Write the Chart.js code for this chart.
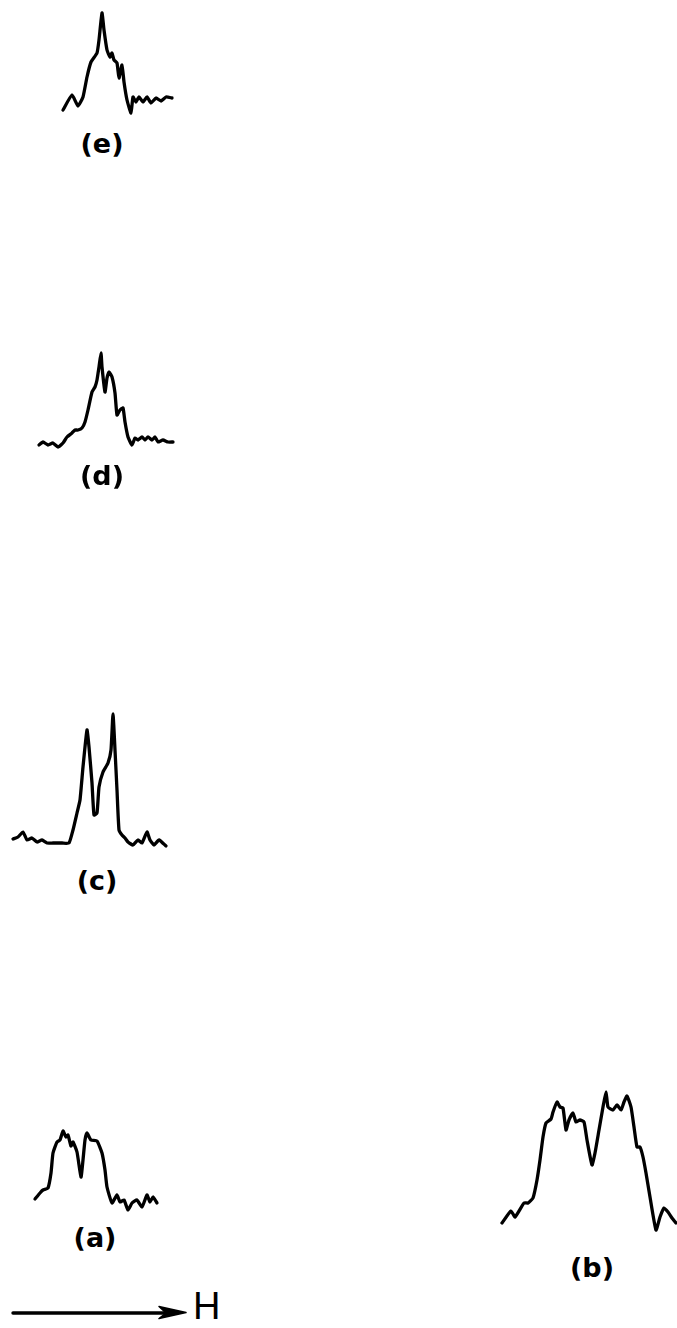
<!DOCTYPE html>
<html>
<head>
<meta charset="utf-8">
<title>Resonance spectra (a)–(e)</title>
<script src="https://cdn.jsdelivr.net/npm/chart.js@4.4.1/dist/chart.umd.min.js"></script>
<style>
  html, body { margin: 0; padding: 0; background: #fff; }
  #page { position: relative; width: 677px; height: 1328px; overflow: hidden; background: #fff; }
  .panel { position: absolute; }
  .label {
    position: absolute;
    font-family: "DejaVu Sans", sans-serif;
    font-weight: bold;
    font-size: 27px;
    line-height: 1;
    color: #000;
    transform: translate(-50%, -50%);
    white-space: nowrap;
  }
  #field-arrow { position: absolute; left: 0; top: 1296px; }
  #field-label {
    position: absolute;
    left: 193px; top: 1285px;
    font-family: "Liberation Sans", "DejaVu Sans", sans-serif;
    font-size: 38px;
    line-height: 42px;
    height: 42px;
    color: #000;
  }
</style>
</head>
<body>
<div id="page">
  <canvas id="spec-e" class="panel"></canvas>
  <canvas id="spec-d" class="panel"></canvas>
  <canvas id="spec-c" class="panel"></canvas>
  <canvas id="spec-a" class="panel"></canvas>
  <canvas id="spec-b" class="panel"></canvas>

  <div class="label" id="lab-e">(e)</div>
  <div class="label" id="lab-d">(d)</div>
  <div class="label" id="lab-c">(c)</div>
  <div class="label" id="lab-a">(a)</div>
  <div class="label" id="lab-b">(b)</div>

  <svg id="field-arrow" width="190" height="32" viewBox="0 0 190 32">
    <line x1="13" y1="17" x2="172" y2="17" stroke="#000" stroke-width="3.4" stroke-linecap="round"/>
    <path d="M159 10.5 L186 16.5 L159 22.5 L166 17 Z" fill="#000" stroke="#000" stroke-width="1.5" stroke-linejoin="round"/>
  </svg>
  <div id="field-label">H</div>
</div>

<script>
// Spectrum (e): field position vs. absorption signal (arbitrary units)
const eField  = [13,22,28,33,37,41,47,49,52,54,57,60,62,64,67,69,72,74,77,81,83,86,89,93,97,101,106,111,116,122];
const eSignal = [15,30,19,28,48,63,72,85,112,95,75,68,72,65,62,47,60,43,25,12,28,23,28,23,28,22,27,24,28,27];

// Spectrum (d)
const dField  = [19,23,28,33,38,43,47,52,55,58,62,65,68,72,75,77,79,81,82,85,87,89,92,95,97,100,103,105,108,112,115,118,122,125,128,132,135,138,143,148,153];
const dSignal = [15,18,15,17,13,17,23,27,30,30,32,38,50,68,73,80,93,107,93,68,82,88,83,67,45,50,52,38,23,15,22,20,23,20,23,20,23,18,20,18,18];

// Spectrum (c)
const cField  = [13,18,23,27,32,37,42,47,53,62,69,73,77,80,83,87,89,92,94,97,99,103,108,111,113,115,117,119,122,125,128,133,138,142,147,150,154,159,166];
const cSignal = [21,23,28,20,22,18,20,17,17,17,17,30,47,60,93,130,113,77,45,47,73,88,97,110,146,110,70,30,25,22,18,15,20,17,28,20,15,20,14];

// Spectrum (a)
const aField  = [15,20,23,28,31,33,37,40,43,46,48,51,53,57,61,63,65,67,71,77,82,85,87,92,97,100,104,108,112,117,122,127,130,133,137];
const aSignal = [21,27,30,32,47,67,78,80,89,83,85,74,78,68,43,60,80,87,80,79,67,50,33,17,25,18,20,10,17,20,13,25,18,23,17];

// Spectrum (b)
const bField  = [12,21,25,34,38,43,47,50,53,56,61,63,67,70,73,76,79,83,86,90,94,97,102,105,109,113,116,118,123,127,131,134,137,141,144,147,150,153,156,160,166,170,174,178,182,186];
const bSignal = [17,29,23,37,37,42,60,80,103,117,121,128,138,133,132,110,120,127,118,120,118,100,75,87,110,133,148,133,130,135,130,138,144,133,113,93,93,83,67,43,10,23,32,28,22,17];

// Spectrum labels
const labels = ['(e)', '(d)', '(c)', '(a)', '(b)'];

// Where each trace sits on the sheet (left, top, width, height) and where its caption goes
const layout = {
  e: { box: [50, 0, 140, 125],    cap: [102, 143] },
  d: { box: [20, 340, 170, 120],  cap: [102, 475] },
  c: { box: [0, 700, 180, 160],   cap: [97, 880] },
  a: { box: [20, 1110, 150, 110], cap: [95, 1237] },
  b: { box: [490, 1080, 187, 160], cap: [592, 1267] }
};

const series = {
  e: [eField, eSignal],
  d: [dField, dSignal],
  c: [cField, cSignal],
  a: [aField, aSignal],
  b: [bField, bSignal]
};

function drawSpectrum(key, idx) {
  const [left, top, w, h] = layout[key].box;
  const cv = document.getElementById('spec-' + key);
  cv.width = w; cv.height = h;
  cv.style.left = left + 'px';
  cv.style.top = top + 'px';
  cv.style.width = w + 'px';
  cv.style.height = h + 'px';

  const [fx, sy] = series[key];
  const pts = fx.map((x, i) => ({ x: x, y: sy[i] }));

  new Chart(cv, {
    type: 'line',
    data: {
      datasets: [{
        label: labels[idx],
        data: pts,
        borderColor: '#000',
        borderWidth: 3.3,
        pointRadius: 0,
        tension: 0.15,
        borderJoinStyle: 'round',
        borderCapStyle: 'round',
        fill: false,
        clip: false
      }]
    },
    options: {
      responsive: false,
      animation: false,
      devicePixelRatio: 1,
      layout: { padding: 0 },
      plugins: { legend: { display: false }, tooltip: { enabled: false }, title: { display: false } },
      scales: {
        x: { type: 'linear', display: false, min: 0, max: w },
        y: { type: 'linear', display: false, min: 0, max: h }
      }
    }
  });

  const lab = document.getElementById('lab-' + key);
  lab.textContent = labels[idx];
  lab.style.left = layout[key].cap[0] + 'px';
  lab.style.top = layout[key].cap[1] + 'px';
}

['e', 'd', 'c', 'a', 'b'].forEach(drawSpectrum);
</script>
</body>
</html>
